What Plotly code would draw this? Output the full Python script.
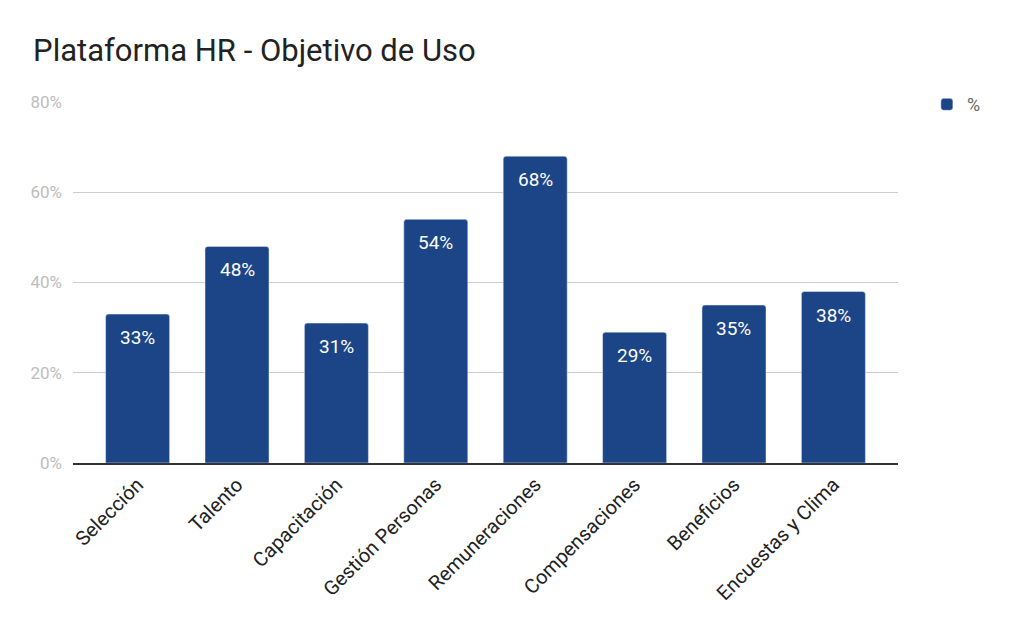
import plotly.graph_objects as go

categories = ["Selección", "Talento", "Capacitación", "Gestión Personas",
              "Remuneraciones", "Compensaciones", "Beneficios", "Encuestas y Clima"]
values = [33, 48, 31, 54, 68, 29, 35, 38]
labels = [f"{v}%" for v in values]
y_ticks = [0, 20, 40, 60, 80]
y_tick_labels = ["0%", "20%", "40%", "60%", "80%"]

fig = go.Figure(go.Bar(
    x=categories, y=values, name="%",
    marker=dict(color="#1c4587", cornerradius=3),
))

for c, v, t in zip(categories, values, labels):
    fig.add_annotation(x=c, y=v, text=t, showarrow=False, yanchor="top", yshift=-10,
                       font=dict(color="white", size=19, family="Roboto"))

fig.update_layout(
    width=1024, height=634,
    paper_bgcolor="white", plot_bgcolor="white",
    margin=dict(l=65, r=134, t=94, b=179),
    title=dict(text="Plataforma HR - Objetivo de Uso", x=0.0245, xanchor="left",
               y=0.934, yanchor="middle",
               font=dict(family="Roboto", size=31, color="#222222")),
    font=dict(family="Roboto"),
    bargap=0.356,
    showlegend=True,
    legend=dict(x=1.035, y=1.044, xanchor="left", yanchor="top",
                font=dict(size=18, color="#666666")),
    yaxis=dict(range=[0, 80], tickvals=y_ticks, ticktext=y_tick_labels,
               gridcolor="#cccccc", gridwidth=1, zeroline=False,
               tickfont=dict(size=17, color="#bdbdbd"), ticks="", ticklen=0,
               ticklabelstandoff=10, showline=False),
    xaxis=dict(tickangle=-45, tickfont=dict(size=20, color="#222222"),
               range=[-0.65, len(categories) - 1 + 0.65],
               showline=True, linecolor="#333333", linewidth=2, ticks=""),
)

fig.write_html("out.html")
